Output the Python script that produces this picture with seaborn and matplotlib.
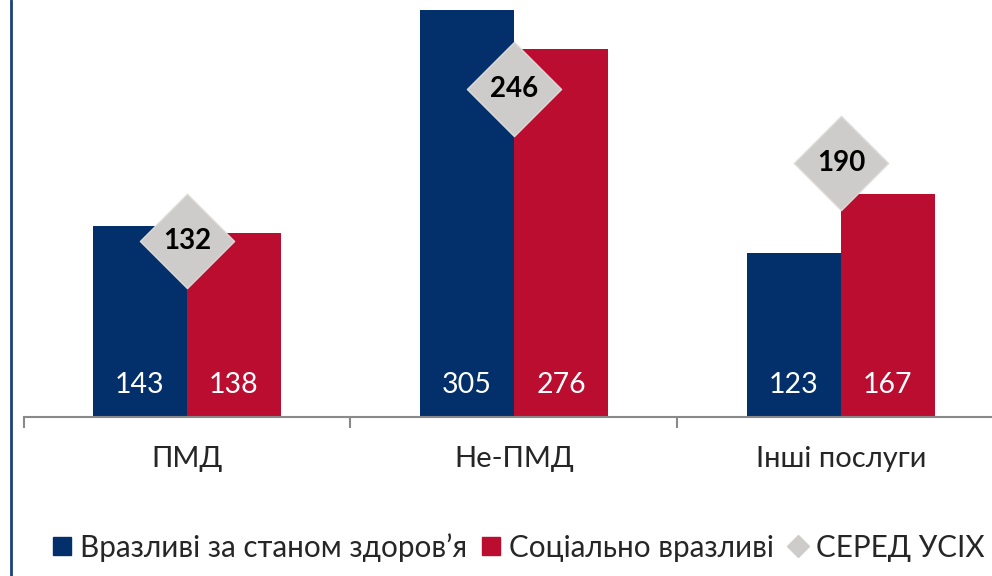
import pandas as pd
import matplotlib.pyplot as plt
import seaborn as sns
from matplotlib.lines import Line2D

# Data
categories = ["ПМД", "Не-ПМД", "Інші послуги"]
health = [143, 305, 123]
social = [138, 276, 167]
overall = [132, 246, 190]
series = ["Вразливі за станом здоров’я", "Соціально вразливі"]
overall_name = "СЕРЕД УСІХ"

blue = "#03306B"
red = "#BA0D30"
grey = "#CDCCCA"

df = pd.DataFrame({
    "Category": categories * 2,
    "Group": [series[0]] * 3 + [series[1]] * 3,
    "Value": health + social,
})
df_all = pd.DataFrame({"Category": categories, "Value": overall})

sns.set_style("white")
plt.rcParams["font.family"] = ["Lato", "DejaVu Sans"]

fig = plt.figure(figsize=(9.92, 5.76), dpi=100)
ax = fig.add_axes([23.5 / 992, 159 / 576, 968.5 / 992, 417 / 576])

sns.barplot(
    data=df, x="Category", y="Value", hue="Group",
    palette=[blue, red], width=0.575, saturation=1,
    errorbar=None, ax=ax, legend=False, linewidth=0,
)

# Overall diamonds
sns.scatterplot(
    data=df_all, x="Category", y="Value", marker="D", s=2300,
    color=grey, edgecolor="#DADAD8", linewidth=1, ax=ax, zorder=5,
    legend=False,
)

# Value labels inside bars
for cont in ax.containers:
    for patch in cont:
        xc = patch.get_x() + patch.get_width() / 2
        ax.text(xc, 24, f"{patch.get_height():.0f}", color="white",
                ha="center", va="center", fontsize=20.5, zorder=6)

for i, v in enumerate(overall):
    ax.text(i, v, str(v), ha="center", va="center", fontsize=20,
            fontweight="bold", color="black", zorder=6)

ax.set_xlabel("")
ax.set_ylabel("")
ax.set_yticks([])
for s in ["left", "right", "top"]:
    ax.spines[s].set_visible(False)
ax.spines["bottom"].set_color("#898989")
ax.spines["bottom"].set_linewidth(1.5)
ax.set_xticks([-0.5, 0.5, 1.5, 2.5], minor=True)
ax.tick_params(axis="x", which="minor", bottom=True, length=8, width=1.5,
               color="#898989", direction="out")
ax.tick_params(axis="x", which="major", bottom=False, length=0, pad=21,
               labelsize=21)
ax.set_xlim(-0.5, 2.462)
ax.set_ylim(0, 312.4)

# Legend
handles = [
    Line2D([], [], marker="s", linestyle="", color=blue, markersize=13),
    Line2D([], [], marker="s", linestyle="", color=red, markersize=13),
    Line2D([], [], marker="D", linestyle="", color=grey, markersize=11),
]
fig.legend(handles, series + [overall_name], loc="center",
           bbox_to_anchor=(0.52, 0.05), ncol=3, frameon=False,
           fontsize=21.3, handletextpad=0.12, columnspacing=0.3,
           handlelength=1.0)

# Left frame line
fig.add_artist(Line2D([11 / 992, 11 / 992], [0, 1], color="#1F3F7F",
                      linewidth=2, transform=fig.transFigure))

fig.savefig("out.png", dpi=100)
